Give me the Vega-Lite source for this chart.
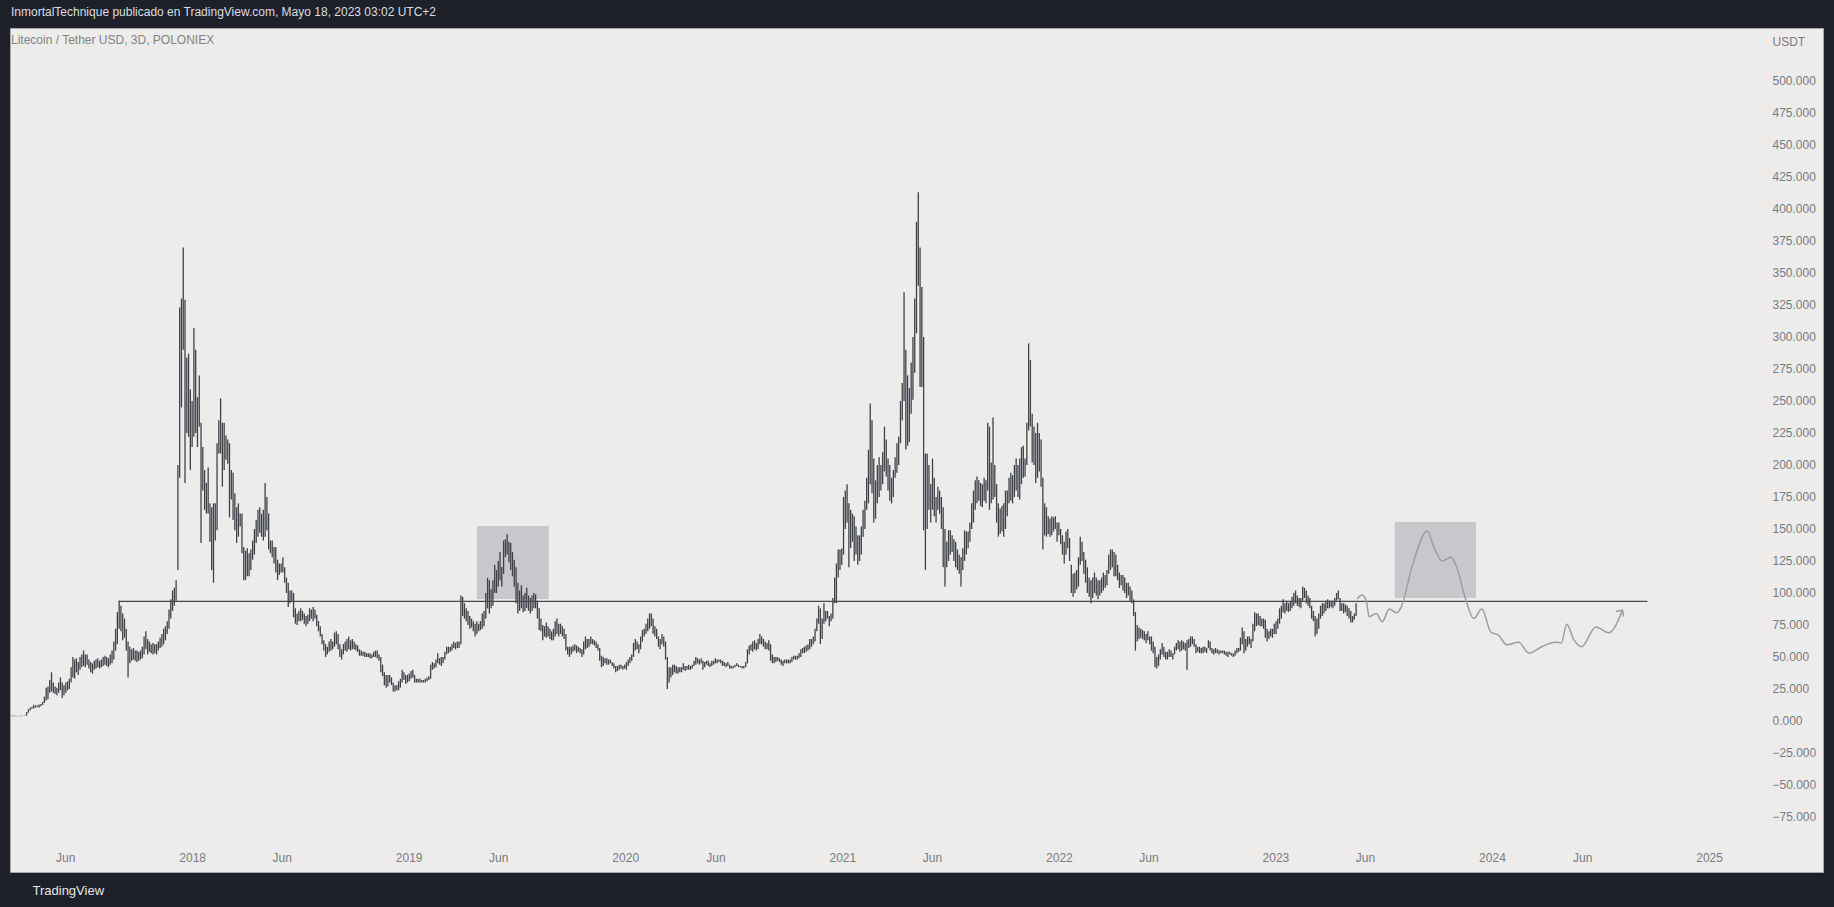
{
  "$schema": "https://vega.github.io/schema/vega-lite/v6.json",
  "width": 1813,
  "height": 844,
  "autosize": {"type": "none"},
  "padding": {"left": 10, "top": 28, "right": 11, "bottom": 35},
  "background": "#1e212a",
  "config": {
    "view": {"fill": "#edecea", "stroke": "#a6a8ae", "strokeWidth": 1},
    "font": "Liberation Sans"
  },
  "title": {
    "text": "InmortalTechnique publicado en TradingView.com, Mayo 18, 2023 03:02 UTC+2",
    "subtitle": "\u2007Litecoin / Tether USD, 3D, POLONIEX",
    "anchor": "start",
    "frame": "group",
    "orient": "top",
    "offset": -19,
    "dx": 1,
    "font": "Liberation Sans",
    "fontSize": 12,
    "fontWeight": "normal",
    "color": "#dcdde2",
    "subtitleFont": "Liberation Sans",
    "subtitleFontSize": 12,
    "subtitleColor": "#80838c",
    "subtitlePadding": 16
  },
  "datasets": {
    "boxes": [
      {"d": "2019-04-26", "d2": "2019-08-25", "p": 95.3, "p2": 152.3},
      {"d": "2023-07-21", "d2": "2023-12-05", "p": 96, "p2": 155.5}
    ],
    "level": [
      {"d": "2017-08-30", "d2": "2024-09-19", "p": 93.5}
    ],
    "proj": [
      {"d": "2023-05-19", "p": 95.5}, {"d": "2023-05-27", "p": 98.5}, {"d": "2023-06-03", "p": 94},
      {"d": "2023-06-08", "p": 81.5}, {"d": "2023-06-20", "p": 84}, {"d": "2023-06-30", "p": 77.5},
      {"d": "2023-07-12", "p": 87.5}, {"d": "2023-07-24", "p": 84.5}, {"d": "2023-08-01", "p": 89},
      {"d": "2023-08-19", "p": 120}, {"d": "2023-09-14", "p": 148.5}, {"d": "2023-09-25", "p": 136},
      {"d": "2023-10-09", "p": 125}, {"d": "2023-10-24", "p": 128}, {"d": "2023-11-01", "p": 122},
      {"d": "2023-11-18", "p": 94.5}, {"d": "2023-12-01", "p": 80}, {"d": "2023-12-15", "p": 87.5},
      {"d": "2023-12-30", "p": 69.5}, {"d": "2024-01-12", "p": 67}, {"d": "2024-01-26", "p": 59.5},
      {"d": "2024-02-15", "p": 61.5}, {"d": "2024-03-03", "p": 53}, {"d": "2024-03-25", "p": 58},
      {"d": "2024-04-17", "p": 61.5}, {"d": "2024-04-27", "p": 61}, {"d": "2024-05-06", "p": 75.5},
      {"d": "2024-05-18", "p": 63.5}, {"d": "2024-05-31", "p": 58}, {"d": "2024-06-24", "p": 73.5},
      {"d": "2024-07-16", "p": 69}, {"d": "2024-08-08", "p": 86.5}
    ],
    "arrow": [
      {"d": "2024-07-28", "p": 85.5}, {"d": "2024-08-08", "p": 86.5}, {"d": "2024-08-10", "p": 81.5}
    ],
    "bars": [
      {"d":"2017-03-01","p":3.8,"p2":4.1},{"d":"2017-03-04","p":3.8,"p2":4.2},{"d":"2017-03-07","p":3.7,"p2":4.0},{"d":"2017-03-10","p":3.7,"p2":4.0},{"d":"2017-03-13","p":3.7,"p2":3.9},{"d":"2017-03-16","p":3.8,"p2":4.1},{"d":"2017-03-19","p":3.7,"p2":4.0},{"d":"2017-03-22","p":3.8,"p2":4.1},{"d":"2017-03-25","p":3.9,"p2":4.3},{"d":"2017-03-28","p":4.1,"p2":7.0},{"d":"2017-03-31","p":6.5,"p2":9.2},
      {"d":"2017-04-03","p":8.2,"p2":10.5},{"d":"2017-04-06","p":9.5,"p2":11.2},{"d":"2017-04-09","p":9.8,"p2":12.6},{"d":"2017-04-12","p":10.5,"p2":12.2},{"d":"2017-04-15","p":10.8,"p2":12.0},{"d":"2017-04-18","p":10.6,"p2":12.8},{"d":"2017-04-21","p":11.5,"p2":13.2},{"d":"2017-04-24","p":12.5,"p2":15.0},{"d":"2017-04-27","p":14,"p2":19},{"d":"2017-04-30","p":16,"p2":26},
      {"d":"2017-05-03","p":17,"p2":27},{"d":"2017-05-06","p":22,"p2":32},{"d":"2017-05-09","p":23,"p2":38},{"d":"2017-05-12","p":22,"p2":30},{"d":"2017-05-15","p":21,"p2":27},{"d":"2017-05-18","p":20,"p2":26},{"d":"2017-05-21","p":22,"p2":30},{"d":"2017-05-24","p":24,"p2":34},{"d":"2017-05-27","p":18,"p2":30},{"d":"2017-05-30","p":20,"p2":28},
      {"d":"2017-06-02","p":22,"p2":30},{"d":"2017-06-05","p":24,"p2":31},{"d":"2017-06-08","p":25,"p2":33},{"d":"2017-06-11","p":30,"p2":42},{"d":"2017-06-14","p":34,"p2":50},{"d":"2017-06-17","p":33,"p2":48},{"d":"2017-06-20","p":38,"p2":49},{"d":"2017-06-23","p":36,"p2":46},{"d":"2017-06-26","p":40,"p2":50},{"d":"2017-06-29","p":42,"p2":52},
      {"d":"2017-07-02","p":43,"p2":55},{"d":"2017-07-05","p":42,"p2":52},{"d":"2017-07-08","p":44,"p2":52},{"d":"2017-07-11","p":41,"p2":48},{"d":"2017-07-14","p":38,"p2":46},{"d":"2017-07-17","p":37,"p2":45},{"d":"2017-07-20","p":40,"p2":47},{"d":"2017-07-23","p":41,"p2":48},{"d":"2017-07-26","p":42,"p2":49},{"d":"2017-07-29","p":41,"p2":47},
      {"d":"2017-08-01","p":42,"p2":48},{"d":"2017-08-04","p":43,"p2":50},{"d":"2017-08-07","p":44,"p2":51},{"d":"2017-08-10","p":43,"p2":50},{"d":"2017-08-13","p":42,"p2":49},{"d":"2017-08-16","p":44,"p2":52},{"d":"2017-08-19","p":45,"p2":55},{"d":"2017-08-22","p":48,"p2":62},{"d":"2017-08-25","p":55,"p2":72},{"d":"2017-08-28","p":60,"p2":85},{"d":"2017-08-31","p":72,"p2":94},
      {"d":"2017-09-03","p":70,"p2":90},{"d":"2017-09-06","p":63,"p2":84},{"d":"2017-09-09","p":65,"p2":80},{"d":"2017-09-12","p":55,"p2":72},{"d":"2017-09-15","p":34,"p2":62},{"d":"2017-09-18","p":45,"p2":58},{"d":"2017-09-21","p":47,"p2":56},{"d":"2017-09-24","p":48,"p2":57},{"d":"2017-09-27","p":47,"p2":55},{"d":"2017-09-30","p":46,"p2":55},
      {"d":"2017-10-03","p":47,"p2":54},{"d":"2017-10-06","p":48,"p2":55},{"d":"2017-10-09","p":49,"p2":58},{"d":"2017-10-12","p":52,"p2":66},{"d":"2017-10-15","p":56,"p2":70},{"d":"2017-10-18","p":52,"p2":64},{"d":"2017-10-21","p":54,"p2":62},{"d":"2017-10-24","p":53,"p2":60},{"d":"2017-10-27","p":52,"p2":61},{"d":"2017-10-30","p":53,"p2":60},
      {"d":"2017-11-02","p":52,"p2":60},{"d":"2017-11-05","p":55,"p2":62},{"d":"2017-11-08","p":57,"p2":65},{"d":"2017-11-11","p":58,"p2":68},{"d":"2017-11-14","p":60,"p2":72},{"d":"2017-11-17","p":63,"p2":74},{"d":"2017-11-20","p":68,"p2":78},{"d":"2017-11-23","p":72,"p2":87},{"d":"2017-11-26","p":80,"p2":95},{"d":"2017-11-29","p":86,"p2":102},
      {"d":"2017-12-02","p":90,"p2":104},{"d":"2017-12-05","p":94,"p2":110},{"d":"2017-12-08","p":118,"p2":200},{"d":"2017-12-11","p":190,"p2":323},{"d":"2017-12-14","p":245,"p2":330},{"d":"2017-12-17","p":290,"p2":370},{"d":"2017-12-20","p":186,"p2":329},{"d":"2017-12-23","p":225,"p2":284},{"d":"2017-12-26","p":222,"p2":287},{"d":"2017-12-29","p":196,"p2":259},
      {"d":"2018-01-01","p":214,"p2":250},{"d":"2018-01-04","p":222,"p2":307},{"d":"2018-01-07","p":225,"p2":290},{"d":"2018-01-10","p":214,"p2":253},{"d":"2018-01-13","p":230,"p2":270},{"d":"2018-01-16","p":139,"p2":233},{"d":"2018-01-19","p":180,"p2":214},{"d":"2018-01-22","p":165,"p2":196},{"d":"2018-01-25","p":162,"p2":186},{"d":"2018-01-28","p":162,"p2":198},{"d":"2018-01-31","p":140,"p2":170},
      {"d":"2018-02-03","p":118,"p2":167},{"d":"2018-02-06","p":108,"p2":170},{"d":"2018-02-09","p":141,"p2":170},{"d":"2018-02-12","p":149,"p2":217},{"d":"2018-02-15","p":209,"p2":235},{"d":"2018-02-18","p":209,"p2":252},{"d":"2018-02-21","p":183,"p2":233},{"d":"2018-02-24","p":196,"p2":233},{"d":"2018-02-27","p":204,"p2":223},
      {"d":"2018-03-02","p":201,"p2":220},{"d":"2018-03-05","p":159,"p2":217},{"d":"2018-03-08","p":173,"p2":196},{"d":"2018-03-11","p":157,"p2":194},{"d":"2018-03-14","p":149,"p2":178},{"d":"2018-03-17","p":139,"p2":167},{"d":"2018-03-20","p":144,"p2":170},{"d":"2018-03-23","p":152,"p2":162},{"d":"2018-03-26","p":131,"p2":162},{"d":"2018-03-29","p":110,"p2":136},
      {"d":"2018-04-01","p":110,"p2":133},{"d":"2018-04-04","p":113,"p2":135},{"d":"2018-04-07","p":113,"p2":131},{"d":"2018-04-10","p":118,"p2":134},{"d":"2018-04-13","p":126,"p2":141},{"d":"2018-04-16","p":130,"p2":150},{"d":"2018-04-19","p":139,"p2":157},{"d":"2018-04-22","p":144,"p2":165},{"d":"2018-04-25","p":147,"p2":167},{"d":"2018-04-28","p":144,"p2":162},
      {"d":"2018-05-01","p":141,"p2":165},{"d":"2018-05-04","p":144,"p2":186},{"d":"2018-05-07","p":149,"p2":175},{"d":"2018-05-10","p":134,"p2":162},{"d":"2018-05-13","p":131,"p2":141},{"d":"2018-05-16","p":128,"p2":141},{"d":"2018-05-19","p":123,"p2":136},{"d":"2018-05-22","p":116,"p2":136},{"d":"2018-05-25","p":110,"p2":126},{"d":"2018-05-28","p":114,"p2":123},{"d":"2018-05-31","p":116,"p2":123},
      {"d":"2018-06-03","p":116,"p2":128},{"d":"2018-06-06","p":108,"p2":120},{"d":"2018-06-09","p":100,"p2":112},{"d":"2018-06-12","p":89,"p2":108},{"d":"2018-06-15","p":92,"p2":102},{"d":"2018-06-18","p":94,"p2":102},{"d":"2018-06-21","p":81,"p2":100},{"d":"2018-06-24","p":76,"p2":88},{"d":"2018-06-27","p":75,"p2":84},{"d":"2018-06-30","p":78,"p2":86},
      {"d":"2018-07-03","p":78,"p2":88},{"d":"2018-07-06","p":79,"p2":86},{"d":"2018-07-09","p":76,"p2":84},{"d":"2018-07-12","p":74,"p2":82},{"d":"2018-07-15","p":76,"p2":83},{"d":"2018-07-18","p":78,"p2":88},{"d":"2018-07-21","p":80,"p2":87},{"d":"2018-07-24","p":78,"p2":89},{"d":"2018-07-27","p":80,"p2":87},{"d":"2018-07-30","p":74,"p2":83},
      {"d":"2018-08-02","p":70,"p2":78},{"d":"2018-08-05","p":66,"p2":74},{"d":"2018-08-08","p":60,"p2":68},{"d":"2018-08-11","p":55,"p2":63},{"d":"2018-08-14","p":50,"p2":60},{"d":"2018-08-17","p":52,"p2":58},{"d":"2018-08-20","p":54,"p2":62},{"d":"2018-08-23","p":55,"p2":64},{"d":"2018-08-26","p":56,"p2":62},{"d":"2018-08-29","p":58,"p2":69},
      {"d":"2018-09-01","p":60,"p2":70},{"d":"2018-09-04","p":56,"p2":68},{"d":"2018-09-07","p":50,"p2":60},{"d":"2018-09-10","p":48,"p2":56},{"d":"2018-09-13","p":52,"p2":60},{"d":"2018-09-16","p":55,"p2":62},{"d":"2018-09-19","p":54,"p2":64},{"d":"2018-09-22","p":56,"p2":66},{"d":"2018-09-25","p":55,"p2":63},{"d":"2018-09-28","p":56,"p2":64},
      {"d":"2018-10-01","p":56,"p2":62},{"d":"2018-10-04","p":55,"p2":60},{"d":"2018-10-07","p":54,"p2":59},{"d":"2018-10-10","p":51,"p2":56},{"d":"2018-10-13","p":51,"p2":55},{"d":"2018-10-16","p":51,"p2":54},{"d":"2018-10-19","p":50,"p2":54},{"d":"2018-10-22","p":50,"p2":53},{"d":"2018-10-25","p":50,"p2":53},{"d":"2018-10-28","p":49,"p2":53},{"d":"2018-10-31","p":49,"p2":52},
      {"d":"2018-11-03","p":50,"p2":54},{"d":"2018-11-06","p":50,"p2":55},{"d":"2018-11-09","p":49,"p2":55},{"d":"2018-11-12","p":47,"p2":52},{"d":"2018-11-15","p":38,"p2":50},{"d":"2018-11-18","p":35,"p2":44},{"d":"2018-11-21","p":28,"p2":38},{"d":"2018-11-24","p":26,"p2":36},{"d":"2018-11-27","p":27,"p2":36},{"d":"2018-11-30","p":30,"p2":36},
      {"d":"2018-12-03","p":28,"p2":34},{"d":"2018-12-06","p":23,"p2":30},{"d":"2018-12-09","p":23,"p2":28},{"d":"2018-12-12","p":24,"p2":28},{"d":"2018-12-15","p":24,"p2":31},{"d":"2018-12-18","p":26,"p2":33},{"d":"2018-12-21","p":30,"p2":40},{"d":"2018-12-24","p":32,"p2":38},{"d":"2018-12-27","p":29,"p2":36},{"d":"2018-12-30","p":30,"p2":36},
      {"d":"2019-01-02","p":31,"p2":37},{"d":"2019-01-05","p":33,"p2":39},{"d":"2019-01-08","p":34,"p2":40},{"d":"2019-01-11","p":30,"p2":36},{"d":"2019-01-14","p":30,"p2":33},{"d":"2019-01-17","p":30,"p2":33},{"d":"2019-01-20","p":30,"p2":33},{"d":"2019-01-23","p":30,"p2":32},{"d":"2019-01-26","p":30,"p2":32},{"d":"2019-01-29","p":30,"p2":33},
      {"d":"2019-02-01","p":31,"p2":34},{"d":"2019-02-04","p":32,"p2":35},{"d":"2019-02-07","p":33,"p2":44},{"d":"2019-02-10","p":40,"p2":46},{"d":"2019-02-13","p":41,"p2":45},{"d":"2019-02-16","p":42,"p2":48},{"d":"2019-02-19","p":45,"p2":53},{"d":"2019-02-22","p":44,"p2":49},{"d":"2019-02-25","p":43,"p2":50},{"d":"2019-02-28","p":45,"p2":50},
      {"d":"2019-03-03","p":48,"p2":54},{"d":"2019-03-06","p":52,"p2":58},{"d":"2019-03-09","p":53,"p2":58},{"d":"2019-03-12","p":54,"p2":58},{"d":"2019-03-15","p":55,"p2":60},{"d":"2019-03-18","p":57,"p2":62},{"d":"2019-03-21","p":56,"p2":61},{"d":"2019-03-24","p":57,"p2":62},{"d":"2019-03-27","p":57,"p2":62},{"d":"2019-03-30","p":60,"p2":98},
      {"d":"2019-04-02","p":82,"p2":97},{"d":"2019-04-05","p":80,"p2":92},{"d":"2019-04-08","p":78,"p2":88},{"d":"2019-04-11","p":75,"p2":86},{"d":"2019-04-14","p":72,"p2":82},{"d":"2019-04-17","p":73,"p2":80},{"d":"2019-04-20","p":70,"p2":78},{"d":"2019-04-23","p":66,"p2":76},{"d":"2019-04-26","p":68,"p2":78},{"d":"2019-04-29","p":70,"p2":76},
      {"d":"2019-05-02","p":71,"p2":78},{"d":"2019-05-05","p":72,"p2":84},{"d":"2019-05-08","p":74,"p2":86},{"d":"2019-05-11","p":80,"p2":100},{"d":"2019-05-14","p":88,"p2":112},{"d":"2019-05-17","p":84,"p2":110},{"d":"2019-05-20","p":88,"p2":103},{"d":"2019-05-23","p":90,"p2":110},{"d":"2019-05-26","p":100,"p2":122},{"d":"2019-05-29","p":100,"p2":118},
      {"d":"2019-06-01","p":105,"p2":125},{"d":"2019-06-04","p":110,"p2":132},{"d":"2019-06-07","p":105,"p2":120},{"d":"2019-06-10","p":115,"p2":141},{"d":"2019-06-13","p":128,"p2":142},{"d":"2019-06-16","p":130,"p2":146},{"d":"2019-06-19","p":124,"p2":140},{"d":"2019-06-22","p":118,"p2":139},{"d":"2019-06-25","p":113,"p2":132},{"d":"2019-06-28","p":105,"p2":126},
      {"d":"2019-07-01","p":92,"p2":120},{"d":"2019-07-04","p":84,"p2":108},{"d":"2019-07-07","p":86,"p2":102},{"d":"2019-07-10","p":88,"p2":106},{"d":"2019-07-13","p":85,"p2":98},{"d":"2019-07-16","p":86,"p2":100},{"d":"2019-07-19","p":88,"p2":104},{"d":"2019-07-22","p":86,"p2":98},{"d":"2019-07-25","p":84,"p2":96},{"d":"2019-07-28","p":86,"p2":98},{"d":"2019-07-31","p":88,"p2":100},
      {"d":"2019-08-03","p":88,"p2":99},{"d":"2019-08-06","p":80,"p2":94},{"d":"2019-08-09","p":71,"p2":88},{"d":"2019-08-12","p":70,"p2":80},{"d":"2019-08-15","p":63,"p2":75},{"d":"2019-08-18","p":66,"p2":74},{"d":"2019-08-21","p":65,"p2":77},{"d":"2019-08-24","p":66,"p2":74},{"d":"2019-08-27","p":64,"p2":72},{"d":"2019-08-30","p":63,"p2":70},
      {"d":"2019-09-02","p":63,"p2":72},{"d":"2019-09-05","p":66,"p2":78},{"d":"2019-09-08","p":68,"p2":80},{"d":"2019-09-11","p":66,"p2":76},{"d":"2019-09-14","p":68,"p2":76},{"d":"2019-09-17","p":66,"p2":74},{"d":"2019-09-20","p":64,"p2":72},{"d":"2019-09-23","p":55,"p2":68},{"d":"2019-09-26","p":52,"p2":58},{"d":"2019-09-29","p":50,"p2":58},
      {"d":"2019-10-02","p":52,"p2":58},{"d":"2019-10-05","p":54,"p2":59},{"d":"2019-10-08","p":55,"p2":60},{"d":"2019-10-11","p":53,"p2":59},{"d":"2019-10-14","p":54,"p2":58},{"d":"2019-10-17","p":53,"p2":57},{"d":"2019-10-20","p":50,"p2":56},{"d":"2019-10-23","p":52,"p2":62},{"d":"2019-10-26","p":56,"p2":66},{"d":"2019-10-29","p":57,"p2":64},
      {"d":"2019-11-01","p":58,"p2":64},{"d":"2019-11-04","p":60,"p2":66},{"d":"2019-11-07","p":60,"p2":64},{"d":"2019-11-10","p":59,"p2":63},{"d":"2019-11-13","p":57,"p2":62},{"d":"2019-11-16","p":55,"p2":60},{"d":"2019-11-19","p":47,"p2":57},{"d":"2019-11-22","p":42,"p2":51},{"d":"2019-11-25","p":43,"p2":50},{"d":"2019-11-28","p":45,"p2":49},
      {"d":"2019-12-01","p":44,"p2":49},{"d":"2019-12-04","p":44,"p2":48},{"d":"2019-12-07","p":45,"p2":48},{"d":"2019-12-10","p":43,"p2":46},{"d":"2019-12-13","p":41,"p2":45},{"d":"2019-12-16","p":38,"p2":43},{"d":"2019-12-19","p":39,"p2":43},{"d":"2019-12-22","p":40,"p2":44},{"d":"2019-12-25","p":41,"p2":44},{"d":"2019-12-28","p":40,"p2":43},{"d":"2019-12-31","p":41,"p2":44},
      {"d":"2020-01-03","p":40,"p2":46},{"d":"2020-01-06","p":43,"p2":48},{"d":"2020-01-09","p":45,"p2":50},{"d":"2020-01-12","p":47,"p2":52},{"d":"2020-01-15","p":50,"p2":61},{"d":"2020-01-18","p":55,"p2":64},{"d":"2020-01-21","p":56,"p2":62},{"d":"2020-01-24","p":53,"p2":60},{"d":"2020-01-27","p":56,"p2":66},{"d":"2020-01-30","p":62,"p2":71},
      {"d":"2020-02-02","p":66,"p2":72},{"d":"2020-02-05","p":68,"p2":76},{"d":"2020-02-08","p":70,"p2":80},{"d":"2020-02-11","p":72,"p2":84},{"d":"2020-02-14","p":74,"p2":84},{"d":"2020-02-17","p":68,"p2":80},{"d":"2020-02-20","p":66,"p2":74},{"d":"2020-02-23","p":64,"p2":72},{"d":"2020-02-26","p":58,"p2":66},{"d":"2020-02-29","p":56,"p2":64},
      {"d":"2020-03-03","p":60,"p2":68},{"d":"2020-03-06","p":58,"p2":66},{"d":"2020-03-09","p":48,"p2":62},{"d":"2020-03-12","p":25,"p2":50},{"d":"2020-03-15","p":30,"p2":42},{"d":"2020-03-18","p":34,"p2":42},{"d":"2020-03-21","p":36,"p2":44},{"d":"2020-03-24","p":38,"p2":44},{"d":"2020-03-27","p":37,"p2":43},{"d":"2020-03-30","p":37,"p2":42},
      {"d":"2020-04-02","p":38,"p2":42},{"d":"2020-04-05","p":38,"p2":42},{"d":"2020-04-08","p":40,"p2":45},{"d":"2020-04-11","p":39,"p2":43},{"d":"2020-04-14","p":40,"p2":43},{"d":"2020-04-17","p":40,"p2":44},{"d":"2020-04-20","p":40,"p2":43},{"d":"2020-04-23","p":41,"p2":44},{"d":"2020-04-26","p":43,"p2":47},{"d":"2020-04-29","p":44,"p2":50},
      {"d":"2020-05-02","p":45,"p2":49},{"d":"2020-05-05","p":44,"p2":48},{"d":"2020-05-08","p":45,"p2":49},{"d":"2020-05-11","p":40,"p2":47},{"d":"2020-05-14","p":42,"p2":46},{"d":"2020-05-17","p":44,"p2":47},{"d":"2020-05-20","p":43,"p2":47},{"d":"2020-05-23","p":42,"p2":45},{"d":"2020-05-26","p":43,"p2":47},{"d":"2020-05-29","p":44,"p2":47},
      {"d":"2020-06-01","p":45,"p2":49},{"d":"2020-06-04","p":45,"p2":48},{"d":"2020-06-07","p":46,"p2":48},{"d":"2020-06-10","p":45,"p2":48},{"d":"2020-06-13","p":43,"p2":47},{"d":"2020-06-16","p":43,"p2":46},{"d":"2020-06-19","p":42,"p2":45},{"d":"2020-06-22","p":43,"p2":46},{"d":"2020-06-25","p":41,"p2":44},{"d":"2020-06-28","p":41,"p2":43},
      {"d":"2020-07-01","p":41,"p2":43},{"d":"2020-07-04","p":42,"p2":44},{"d":"2020-07-07","p":43,"p2":45},{"d":"2020-07-10","p":42,"p2":44},{"d":"2020-07-13","p":42,"p2":43},{"d":"2020-07-16","p":41,"p2":43},{"d":"2020-07-19","p":41,"p2":43},{"d":"2020-07-22","p":42,"p2":46},{"d":"2020-07-25","p":45,"p2":56},{"d":"2020-07-28","p":52,"p2":59},{"d":"2020-07-31","p":55,"p2":60},
      {"d":"2020-08-03","p":54,"p2":62},{"d":"2020-08-06","p":56,"p2":63},{"d":"2020-08-09","p":55,"p2":61},{"d":"2020-08-12","p":56,"p2":64},{"d":"2020-08-15","p":60,"p2":68},{"d":"2020-08-18","p":60,"p2":66},{"d":"2020-08-21","p":58,"p2":64},{"d":"2020-08-24","p":56,"p2":62},{"d":"2020-08-27","p":56,"p2":61},{"d":"2020-08-30","p":55,"p2":63},
      {"d":"2020-09-02","p":47,"p2":60},{"d":"2020-09-05","p":45,"p2":52},{"d":"2020-09-08","p":45,"p2":50},{"d":"2020-09-11","p":46,"p2":50},{"d":"2020-09-14","p":47,"p2":50},{"d":"2020-09-17","p":46,"p2":49},{"d":"2020-09-20","p":44,"p2":48},{"d":"2020-09-23","p":43,"p2":47},{"d":"2020-09-26","p":45,"p2":48},{"d":"2020-09-29","p":45,"p2":48},
      {"d":"2020-10-02","p":45,"p2":48},{"d":"2020-10-05","p":45,"p2":48},{"d":"2020-10-08","p":46,"p2":50},{"d":"2020-10-11","p":48,"p2":51},{"d":"2020-10-14","p":48,"p2":51},{"d":"2020-10-17","p":48,"p2":51},{"d":"2020-10-20","p":49,"p2":53},{"d":"2020-10-23","p":50,"p2":56},{"d":"2020-10-26","p":53,"p2":57},{"d":"2020-10-29","p":53,"p2":58},
      {"d":"2020-11-01","p":54,"p2":59},{"d":"2020-11-04","p":55,"p2":60},{"d":"2020-11-07","p":56,"p2":64},{"d":"2020-11-10","p":58,"p2":64},{"d":"2020-11-13","p":60,"p2":66},{"d":"2020-11-16","p":62,"p2":72},{"d":"2020-11-19","p":70,"p2":80},{"d":"2020-11-22","p":76,"p2":90},{"d":"2020-11-25","p":60,"p2":88},{"d":"2020-11-28","p":64,"p2":80},
      {"d":"2020-12-01","p":76,"p2":92},{"d":"2020-12-04","p":78,"p2":86},{"d":"2020-12-07","p":80,"p2":86},{"d":"2020-12-10","p":74,"p2":82},{"d":"2020-12-13","p":78,"p2":84},{"d":"2020-12-16","p":80,"p2":96},{"d":"2020-12-19","p":92,"p2":112},{"d":"2020-12-22","p":92,"p2":123},{"d":"2020-12-25","p":112,"p2":134},{"d":"2020-12-28","p":118,"p2":134},{"d":"2020-12-31","p":122,"p2":135},
      {"d":"2021-01-03","p":130,"p2":175},{"d":"2021-01-06","p":150,"p2":180},{"d":"2021-01-09","p":155,"p2":185},{"d":"2021-01-12","p":120,"p2":170},{"d":"2021-01-15","p":135,"p2":165},{"d":"2021-01-18","p":140,"p2":162},{"d":"2021-01-21","p":125,"p2":160},{"d":"2021-01-24","p":130,"p2":152},{"d":"2021-01-27","p":122,"p2":145},{"d":"2021-01-30","p":125,"p2":145},
      {"d":"2021-02-02","p":130,"p2":152},{"d":"2021-02-05","p":144,"p2":165},{"d":"2021-02-08","p":150,"p2":172},{"d":"2021-02-11","p":165,"p2":190},{"d":"2021-02-14","p":170,"p2":212},{"d":"2021-02-17","p":185,"p2":248},{"d":"2021-02-20","p":178,"p2":235},{"d":"2021-02-23","p":155,"p2":205},{"d":"2021-02-26","p":158,"p2":188},
      {"d":"2021-03-01","p":170,"p2":200},{"d":"2021-03-04","p":175,"p2":206},{"d":"2021-03-07","p":180,"p2":200},{"d":"2021-03-10","p":185,"p2":210},{"d":"2021-03-13","p":195,"p2":230},{"d":"2021-03-16","p":191,"p2":220},{"d":"2021-03-19","p":180,"p2":205},{"d":"2021-03-22","p":172,"p2":200},{"d":"2021-03-25","p":170,"p2":190},{"d":"2021-03-28","p":175,"p2":196},{"d":"2021-03-31","p":190,"p2":206},
      {"d":"2021-04-03","p":194,"p2":217},{"d":"2021-04-06","p":200,"p2":222},{"d":"2021-04-09","p":217,"p2":250},{"d":"2021-04-12","p":235,"p2":264},{"d":"2021-04-15","p":250,"p2":335},{"d":"2021-04-18","p":212,"p2":290},{"d":"2021-04-21","p":215,"p2":270},{"d":"2021-04-24","p":218,"p2":260},{"d":"2021-04-27","p":240,"p2":280},{"d":"2021-04-30","p":251,"p2":300},
      {"d":"2021-05-03","p":272,"p2":330},{"d":"2021-05-06","p":303,"p2":390},{"d":"2021-05-09","p":340,"p2":413},{"d":"2021-05-12","p":261,"p2":370},{"d":"2021-05-15","p":261,"p2":339},{"d":"2021-05-18","p":149,"p2":300},{"d":"2021-05-21","p":118,"p2":209},{"d":"2021-05-24","p":150,"p2":209},{"d":"2021-05-27","p":165,"p2":200},{"d":"2021-05-30","p":155,"p2":185},
      {"d":"2021-06-02","p":165,"p2":205},{"d":"2021-06-05","p":160,"p2":190},{"d":"2021-06-08","p":155,"p2":175},{"d":"2021-06-11","p":165,"p2":183},{"d":"2021-06-14","p":162,"p2":180},{"d":"2021-06-17","p":150,"p2":175},{"d":"2021-06-20","p":120,"p2":167},{"d":"2021-06-23","p":105,"p2":150},{"d":"2021-06-26","p":120,"p2":140},{"d":"2021-06-29","p":125,"p2":149},
      {"d":"2021-07-02","p":130,"p2":149},{"d":"2021-07-05","p":132,"p2":145},{"d":"2021-07-08","p":125,"p2":142},{"d":"2021-07-11","p":120,"p2":140},{"d":"2021-07-14","p":118,"p2":134},{"d":"2021-07-17","p":115,"p2":130},{"d":"2021-07-20","p":105,"p2":128},{"d":"2021-07-23","p":118,"p2":135},{"d":"2021-07-26","p":125,"p2":149},{"d":"2021-07-29","p":130,"p2":148},
      {"d":"2021-08-01","p":135,"p2":148},{"d":"2021-08-04","p":140,"p2":155},{"d":"2021-08-07","p":150,"p2":170},{"d":"2021-08-10","p":155,"p2":180},{"d":"2021-08-13","p":165,"p2":188},{"d":"2021-08-16","p":170,"p2":191},{"d":"2021-08-19","p":172,"p2":188},{"d":"2021-08-22","p":168,"p2":186},{"d":"2021-08-25","p":167,"p2":185},{"d":"2021-08-28","p":172,"p2":190},{"d":"2021-08-31","p":170,"p2":188},
      {"d":"2021-09-03","p":180,"p2":233},{"d":"2021-09-06","p":165,"p2":230},{"d":"2021-09-09","p":170,"p2":202},{"d":"2021-09-12","p":173,"p2":237},{"d":"2021-09-15","p":175,"p2":200},{"d":"2021-09-18","p":155,"p2":185},{"d":"2021-09-21","p":144,"p2":170},{"d":"2021-09-24","p":146,"p2":166},{"d":"2021-09-27","p":148,"p2":168},{"d":"2021-09-30","p":144,"p2":170},
      {"d":"2021-10-03","p":150,"p2":180},{"d":"2021-10-06","p":160,"p2":180},{"d":"2021-10-09","p":170,"p2":190},{"d":"2021-10-12","p":172,"p2":194},{"d":"2021-10-15","p":170,"p2":192},{"d":"2021-10-18","p":175,"p2":200},{"d":"2021-10-21","p":180,"p2":205},{"d":"2021-10-24","p":175,"p2":200},{"d":"2021-10-27","p":173,"p2":205},{"d":"2021-10-30","p":185,"p2":214},
      {"d":"2021-11-02","p":190,"p2":215},{"d":"2021-11-05","p":191,"p2":205},{"d":"2021-11-08","p":200,"p2":233},{"d":"2021-11-11","p":227,"p2":295},{"d":"2021-11-14","p":230,"p2":282},{"d":"2021-11-17","p":202,"p2":240},{"d":"2021-11-20","p":200,"p2":230},{"d":"2021-11-23","p":186,"p2":225},{"d":"2021-11-26","p":190,"p2":233},{"d":"2021-11-29","p":195,"p2":225},
      {"d":"2021-12-02","p":183,"p2":220},{"d":"2021-12-05","p":134,"p2":190},{"d":"2021-12-08","p":145,"p2":170},{"d":"2021-12-11","p":144,"p2":167},{"d":"2021-12-14","p":146,"p2":160},{"d":"2021-12-17","p":144,"p2":158},{"d":"2021-12-20","p":145,"p2":160},{"d":"2021-12-23","p":148,"p2":159},{"d":"2021-12-26","p":150,"p2":160},{"d":"2021-12-29","p":140,"p2":155},
      {"d":"2022-01-01","p":145,"p2":155},{"d":"2022-01-04","p":138,"p2":150},{"d":"2022-01-07","p":130,"p2":145},{"d":"2022-01-10","p":123,"p2":140},{"d":"2022-01-13","p":130,"p2":148},{"d":"2022-01-16","p":135,"p2":150},{"d":"2022-01-19","p":125,"p2":143},{"d":"2022-01-22","p":100,"p2":122},{"d":"2022-01-25","p":97,"p2":115},{"d":"2022-01-28","p":100,"p2":116},{"d":"2022-01-31","p":103,"p2":118},
      {"d":"2022-02-03","p":105,"p2":128},{"d":"2022-02-06","p":122,"p2":144},{"d":"2022-02-09","p":125,"p2":140},{"d":"2022-02-12","p":115,"p2":132},{"d":"2022-02-15","p":108,"p2":126},{"d":"2022-02-18","p":100,"p2":120},{"d":"2022-02-21","p":97,"p2":112},{"d":"2022-02-24","p":92,"p2":110},{"d":"2022-02-27","p":96,"p2":112},
      {"d":"2022-03-02","p":100,"p2":116},{"d":"2022-03-05","p":98,"p2":112},{"d":"2022-03-08","p":95,"p2":110},{"d":"2022-03-11","p":98,"p2":110},{"d":"2022-03-14","p":100,"p2":112},{"d":"2022-03-17","p":102,"p2":116},{"d":"2022-03-20","p":104,"p2":114},{"d":"2022-03-23","p":106,"p2":118},{"d":"2022-03-26","p":115,"p2":130},{"d":"2022-03-29","p":118,"p2":134},
      {"d":"2022-04-01","p":120,"p2":134},{"d":"2022-04-04","p":113,"p2":132},{"d":"2022-04-07","p":113,"p2":130},{"d":"2022-04-10","p":110,"p2":122},{"d":"2022-04-13","p":104,"p2":116},{"d":"2022-04-16","p":106,"p2":114},{"d":"2022-04-19","p":102,"p2":114},{"d":"2022-04-22","p":100,"p2":112},{"d":"2022-04-25","p":96,"p2":108},{"d":"2022-04-28","p":98,"p2":108},
      {"d":"2022-05-01","p":94,"p2":105},{"d":"2022-05-04","p":92,"p2":102},{"d":"2022-05-07","p":82,"p2":95},{"d":"2022-05-10","p":55,"p2":85},{"d":"2022-05-13","p":62,"p2":75},{"d":"2022-05-16","p":64,"p2":73},{"d":"2022-05-19","p":65,"p2":72},{"d":"2022-05-22","p":64,"p2":71},{"d":"2022-05-25","p":63,"p2":70},{"d":"2022-05-28","p":61,"p2":68},{"d":"2022-05-31","p":63,"p2":70},
      {"d":"2022-06-03","p":60,"p2":66},{"d":"2022-06-06","p":55,"p2":66},{"d":"2022-06-09","p":53,"p2":62},{"d":"2022-06-12","p":42,"p2":58},{"d":"2022-06-15","p":41,"p2":50},{"d":"2022-06-18","p":43,"p2":52},{"d":"2022-06-21","p":48,"p2":56},{"d":"2022-06-24","p":52,"p2":61},{"d":"2022-06-27","p":50,"p2":58},{"d":"2022-06-30","p":48,"p2":54},
      {"d":"2022-07-03","p":48,"p2":54},{"d":"2022-07-06","p":50,"p2":56},{"d":"2022-07-09","p":50,"p2":55},{"d":"2022-07-12","p":48,"p2":53},{"d":"2022-07-15","p":52,"p2":58},{"d":"2022-07-18","p":55,"p2":61},{"d":"2022-07-21","p":56,"p2":63},{"d":"2022-07-24","p":54,"p2":62},{"d":"2022-07-27","p":55,"p2":63},{"d":"2022-07-30","p":56,"p2":62},
      {"d":"2022-08-02","p":55,"p2":61},{"d":"2022-08-05","p":40,"p2":63},{"d":"2022-08-08","p":57,"p2":64},{"d":"2022-08-11","p":58,"p2":66},{"d":"2022-08-14","p":60,"p2":66},{"d":"2022-08-17","p":58,"p2":64},{"d":"2022-08-20","p":53,"p2":60},{"d":"2022-08-23","p":54,"p2":58},{"d":"2022-08-26","p":53,"p2":58},{"d":"2022-08-29","p":53,"p2":57},
      {"d":"2022-09-01","p":53,"p2":58},{"d":"2022-09-04","p":54,"p2":58},{"d":"2022-09-07","p":53,"p2":57},{"d":"2022-09-10","p":57,"p2":63},{"d":"2022-09-13","p":55,"p2":62},{"d":"2022-09-16","p":53,"p2":57},{"d":"2022-09-19","p":52,"p2":56},{"d":"2022-09-22","p":53,"p2":57},{"d":"2022-09-25","p":53,"p2":56},{"d":"2022-09-28","p":52,"p2":55},
      {"d":"2022-10-01","p":53,"p2":55},{"d":"2022-10-04","p":53,"p2":55},{"d":"2022-10-07","p":52,"p2":55},{"d":"2022-10-10","p":51,"p2":54},{"d":"2022-10-13","p":50,"p2":54},{"d":"2022-10-16","p":52,"p2":54},{"d":"2022-10-19","p":51,"p2":53},{"d":"2022-10-22","p":50,"p2":53},{"d":"2022-10-25","p":51,"p2":55},{"d":"2022-10-28","p":53,"p2":57},{"d":"2022-10-31","p":54,"p2":57},
      {"d":"2022-11-03","p":55,"p2":65},{"d":"2022-11-06","p":60,"p2":73},{"d":"2022-11-09","p":53,"p2":70},{"d":"2022-11-12","p":55,"p2":64},{"d":"2022-11-15","p":58,"p2":66},{"d":"2022-11-18","p":60,"p2":66},{"d":"2022-11-21","p":57,"p2":64},{"d":"2022-11-24","p":62,"p2":76},{"d":"2022-11-27","p":70,"p2":85},{"d":"2022-11-30","p":74,"p2":84},
      {"d":"2022-12-03","p":75,"p2":84},{"d":"2022-12-06","p":74,"p2":82},{"d":"2022-12-09","p":74,"p2":80},{"d":"2022-12-12","p":72,"p2":80},{"d":"2022-12-15","p":65,"p2":79},{"d":"2022-12-18","p":62,"p2":72},{"d":"2022-12-21","p":64,"p2":70},{"d":"2022-12-24","p":66,"p2":72},{"d":"2022-12-27","p":65,"p2":72},{"d":"2022-12-30","p":68,"p2":76},
      {"d":"2023-01-02","p":68,"p2":78},{"d":"2023-01-05","p":72,"p2":80},{"d":"2023-01-08","p":76,"p2":88},{"d":"2023-01-11","p":80,"p2":90},{"d":"2023-01-14","p":85,"p2":95},{"d":"2023-01-17","p":84,"p2":92},{"d":"2023-01-20","p":86,"p2":94},{"d":"2023-01-23","p":85,"p2":92},{"d":"2023-01-26","p":86,"p2":94},{"d":"2023-01-29","p":88,"p2":97},
      {"d":"2023-02-01","p":90,"p2":100},{"d":"2023-02-04","p":92,"p2":102},{"d":"2023-02-07","p":90,"p2":98},{"d":"2023-02-10","p":89,"p2":96},{"d":"2023-02-13","p":88,"p2":96},{"d":"2023-02-16","p":94,"p2":105},{"d":"2023-02-19","p":96,"p2":104},{"d":"2023-02-22","p":92,"p2":102},{"d":"2023-02-25","p":90,"p2":98},{"d":"2023-02-28","p":88,"p2":96},
      {"d":"2023-03-03","p":80,"p2":90},{"d":"2023-03-06","p":78,"p2":86},{"d":"2023-03-09","p":66,"p2":82},{"d":"2023-03-12","p":68,"p2":80},{"d":"2023-03-15","p":72,"p2":84},{"d":"2023-03-18","p":80,"p2":90},{"d":"2023-03-21","p":82,"p2":92},{"d":"2023-03-24","p":84,"p2":92},{"d":"2023-03-27","p":86,"p2":94},{"d":"2023-03-30","p":88,"p2":95},
      {"d":"2023-04-02","p":88,"p2":94},{"d":"2023-04-05","p":89,"p2":94},{"d":"2023-04-08","p":88,"p2":94},{"d":"2023-04-11","p":90,"p2":96},{"d":"2023-04-14","p":94,"p2":100},{"d":"2023-04-17","p":95,"p2":102},{"d":"2023-04-20","p":86,"p2":96},{"d":"2023-04-23","p":86,"p2":92},{"d":"2023-04-26","p":84,"p2":92},{"d":"2023-04-29","p":85,"p2":91},
      {"d":"2023-05-02","p":82,"p2":90},{"d":"2023-05-05","p":80,"p2":88},{"d":"2023-05-08","p":77,"p2":86},{"d":"2023-05-11","p":77,"p2":82},{"d":"2023-05-14","p":79,"p2":84},{"d":"2023-05-17","p":82,"p2":92}
    ]
  },
  "encoding": {
    "x": {
      "field": "d",
      "type": "temporal",
      "scale": {
        "type": "utc",
        "domain": [
          {"year": 2017, "month": 2, "date": 28, "utc": true},
          {"year": 2025, "month": 7, "date": 12, "utc": true}
        ]
      },
      "axis": {
        "orient": "bottom",
        "offset": -22,
        "domain": false,
        "ticks": false,
        "grid": false,
        "title": "TradingView",
        "titleAnchor": "start",
        "titleAlign": "left",
        "titleBaseline": "middle",
        "titleX": 22,
        "titleY": 40,
        "titleColor": "#e4e5ea",
        "titleFont": "Liberation Sans",
        "titleFontSize": 13,
        "titleFontWeight": "normal",
        "labelPadding": 2,
        "labelFont": "Liberation Sans",
        "labelFontSize": 12,
        "labelColor": "#787b86",
        "labelFlush": false,
        "labelOverlap": false,
        "values": [
          {"year": 2017, "month": 6, "date": 1, "utc": true},
          {"year": 2018, "month": 1, "date": 1, "utc": true},
          {"year": 2018, "month": 6, "date": 1, "utc": true},
          {"year": 2019, "month": 1, "date": 1, "utc": true},
          {"year": 2019, "month": 6, "date": 1, "utc": true},
          {"year": 2020, "month": 1, "date": 1, "utc": true},
          {"year": 2020, "month": 6, "date": 1, "utc": true},
          {"year": 2021, "month": 1, "date": 1, "utc": true},
          {"year": 2021, "month": 6, "date": 1, "utc": true},
          {"year": 2022, "month": 1, "date": 1, "utc": true},
          {"year": 2022, "month": 6, "date": 1, "utc": true},
          {"year": 2023, "month": 1, "date": 1, "utc": true},
          {"year": 2023, "month": 6, "date": 1, "utc": true},
          {"year": 2024, "month": 1, "date": 1, "utc": true},
          {"year": 2024, "month": 6, "date": 1, "utc": true},
          {"year": 2025, "month": 1, "date": 1, "utc": true}
        ],
        "labelExpr": "utcFormat(datum.value, '%m') == '06' ? 'Jun' : utcFormat(datum.value, '%Y')"
      }
    },
    "y": {
      "field": "p",
      "type": "quantitative",
      "scale": {"domain": [-118, 541.4], "nice": false, "zero": false},
      "axis": {
        "orient": "right",
        "offset": -51,
        "domain": false,
        "ticks": false,
        "grid": false,
        "labelPadding": 0,
        "labelAlign": "left",
        "labelFont": "Liberation Sans",
        "labelFontSize": 12,
        "labelColor": "#787b86",
        "labelOverlap": false,
        "labelFlush": false,
        "format": ".3f",
        "values": [-75, -50, -25, 0, 25, 50, 75, 100, 125, 150, 175, 200, 225, 250, 275, 300, 325, 350, 375, 400, 425, 450, 475, 500],
        "title": "USDT",
        "titleAngle": 0,
        "titleAlign": "left",
        "titleBaseline": "middle",
        "titleX": 0,
        "titleY": 13,
        "titleColor": "#787b86",
        "titleFont": "Liberation Sans",
        "titleFontSize": 12,
        "titleFontWeight": "normal"
      }
    }
  },
  "layer": [
    {
      "data": {"name": "boxes"},
      "mark": {"type": "rect", "fill": "#c7c7cc"},
      "encoding": {"x2": {"field": "d2"}, "y2": {"field": "p2"}}
    },
    {
      "data": {"name": "bars"},
      "mark": {"type": "rule", "color": "#3e4148", "strokeWidth": 1.3},
      "encoding": {"y2": {"field": "p2"}}
    },
    {
      "data": {"name": "level"},
      "mark": {"type": "rule", "color": "#45484f", "strokeWidth": 1.3},
      "encoding": {"x2": {"field": "d2"}}
    },
    {
      "data": {"name": "proj"},
      "mark": {"type": "line", "color": "#9c9ca1", "strokeWidth": 1.5, "interpolate": "monotone"},
      "encoding": {}
    },
    {
      "data": {"name": "arrow"},
      "mark": {"type": "line", "color": "#9c9ca1", "strokeWidth": 1.5},
      "encoding": {}
    }
  ]
}
